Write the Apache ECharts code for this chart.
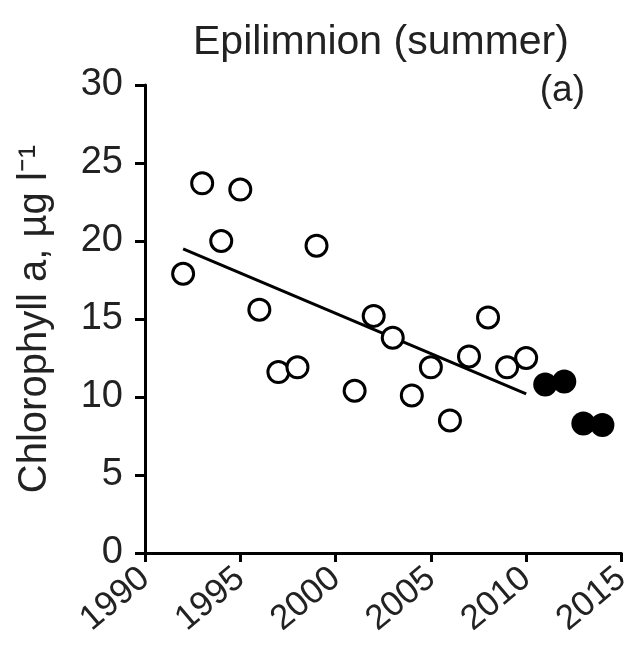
<!DOCTYPE html>
<html>
<head>
<meta charset="utf-8">
<script src="https://cdn.jsdelivr.net/npm/echarts@6/dist/echarts.min.js"></script>
<style>
  html, body { margin: 0; padding: 0; background: #fff; }
  #chart { width: 635px; height: 659px; }
</style>
</head>
<body>
<div id="chart"></div>
<script>
// open circles: 1992-2010
const openYears = [1992, 1993, 1994, 1995, 1996, 1997, 1998, 1999, 2001, 2002, 2003, 2004, 2005, 2006, 2007, 2008, 2009, 2010];
const openChl = [17.9, 23.7, 20.0, 23.3, 15.6, 11.6, 11.9, 19.7, 10.4, 15.2, 13.8, 10.1, 11.9, 8.5, 12.6, 15.1, 11.9, 12.5];

// filled circles: 2011-2014
const filledYears = [2011, 2012, 2013, 2014];
const filledChl = [10.8, 11.0, 8.3, 8.2];

// trend line end points
const trendYears = [1992, 2010];
const trendChl = [19.5, 10.2];

const xTicks = [1990, 1995, 2000, 2005, 2010, 2015];
const yTicks = [0, 5, 10, 15, 20, 25, 30];

const font = "'Liberation Sans', Arial, sans-serif";
const chart = echarts.init(document.getElementById('chart'));

const option = {
    animation: false,
    backgroundColor: '#fff',
    title: [{
        text: 'Epilimnion (summer)',
        left: 188,
        top: 17,
        textStyle: { fontFamily: font, fontSize: 41, fontWeight: 'normal', color: '#222' }
    }, {
        text: '(a)',
        right: 45,
        top: 67,
        textStyle: { fontFamily: font, fontSize: 37, fontWeight: 'normal', color: '#222' }
    }],
    grid: { left: 145, right: 10, top: 85, bottom: 106 },
    xAxis: {
        type: 'value',
        min: xTicks[0],
        max: xTicks[xTicks.length - 1],
        interval: 5,
        splitLine: { show: false },
        axisLine: { onZero: false, lineStyle: { color: '#000', width: 3 } },
        axisTick: { length: 9, lineStyle: { color: '#000', width: 3 } },
        axisLabel: {
            rotate: 40, margin: 21,
            fontFamily: font, fontSize: 35, color: '#222',
            formatter: v => String(v)
        }
    },
    yAxis: {
        type: 'value',
        min: yTicks[0],
        max: yTicks[yTicks.length - 1],
        interval: 5,
        splitLine: { show: false },
        axisLine: { lineStyle: { color: '#000', width: 3 } },
        axisTick: { length: 10, lineStyle: { color: '#000', width: 3 } },
        axisLabel: { margin: 22, fontFamily: font, fontSize: 38, color: '#222' },
        name: 'Chlorophyll a, µg l⁻¹',
        nameLocation: 'middle',
        nameGap: 90,
        nameTextStyle: { fontFamily: font, fontSize: 40, color: '#222' }
    },
    series: [{
        type: 'line',
        data: trendYears.map((y, i) => [y, trendChl[i]]),
        symbol: 'none',
        lineStyle: { color: '#000', width: 3 },
        z: 1
    }, {
        type: 'scatter',
        data: openYears.map((y, i) => [y, openChl[i]]),
        symbol: 'circle',
        symbolSize: 21,
        itemStyle: { color: '#fff', borderColor: '#000', borderWidth: 3, opacity: 1 },
        z: 2
    }, {
        type: 'scatter',
        data: filledYears.map((y, i) => [y, filledChl[i]]),
        symbol: 'circle',
        symbolSize: 24,
        itemStyle: { color: '#000', opacity: 1 },
        z: 3
    }]
};

chart.setOption(option);
</script>
</body>
</html>
